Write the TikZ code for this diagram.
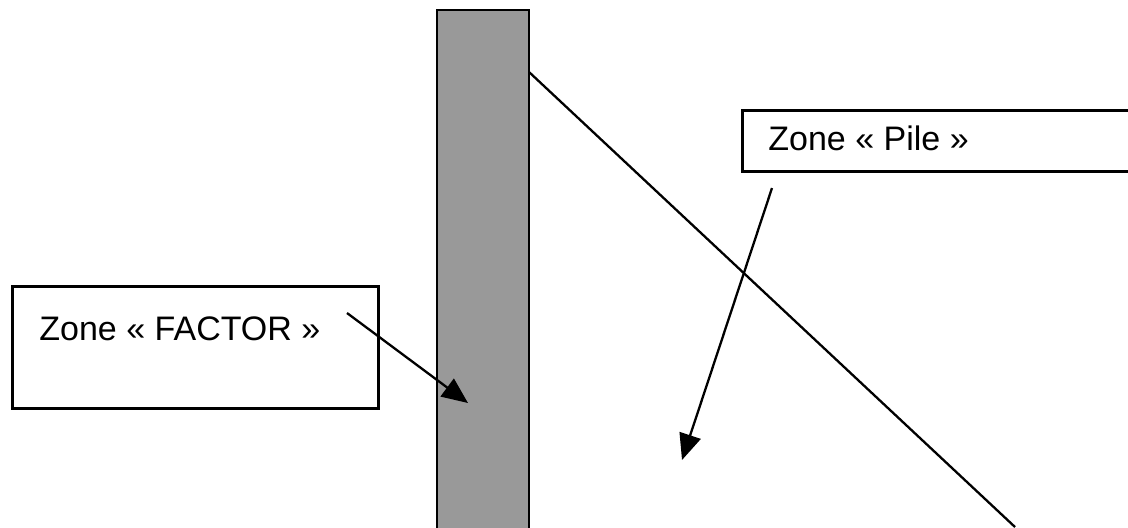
\documentclass[tikz,border=0pt]{standalone}
\usepackage{fontspec}
\setmainfont{Liberation Sans}
\usetikzlibrary{arrows.meta}
\definecolor{pilegray}{HTML}{999999}
\tikzset{
  zonebox/.style ={draw, rectangle, line width=1.5pt, inner sep=0pt},
  zonetxt/.style ={font=\fontsize{17}{20}\selectfont, inner sep=0pt,
                   anchor=base west},
  pillar/.style  ={draw, rectangle, fill=pilegray, line width=1.3pt,
                   inner sep=0pt, minimum width=46pt, minimum height=280pt},
  ptr/.style     ={-{Triangle[length=13pt, width=11pt]}, line width=1.15pt},
  slope/.style   ={line width=1.15pt},
}

\begin{document}
\begin{tikzpicture}[x=0.5pt, y=-0.5pt]
  \useasboundingbox (0,0) rectangle (1128,527);
  \clip (0,0) rectangle (1128,527);
  % pillar and ground line
  \node[pillar] (pile) at (483,290) {};
  \coordinate (slopetop) at (529,72);
  \coordinate (slopebot) at (1015,527);
  \draw[slope] (slopetop) -- (slopebot);
  % labels
  \node[zonebox, minimum width=183pt, minimum height=61pt] (factorbox) at (195,347) {};
  \node[zonetxt] (factortxt) at (39,340) {Zone « FACTOR »};
  \node[zonebox, minimum width=214pt, minimum height=30.5pt] (pilebox) at (956,140.5) {};
  \node[zonetxt] (piletxt) at (768,150) {Zone « Pile »};
  % pointers
  \coordinate (fstart) at (347,313);
  \coordinate (ftip) at (468,403);
  \coordinate (pstart) at (772,188);
  \coordinate (ptip) at (682,460);
  \draw[ptr] (fstart) -- (ftip);
  \draw[ptr] (pstart) -- (ptip);
\end{tikzpicture}
\end{document}
